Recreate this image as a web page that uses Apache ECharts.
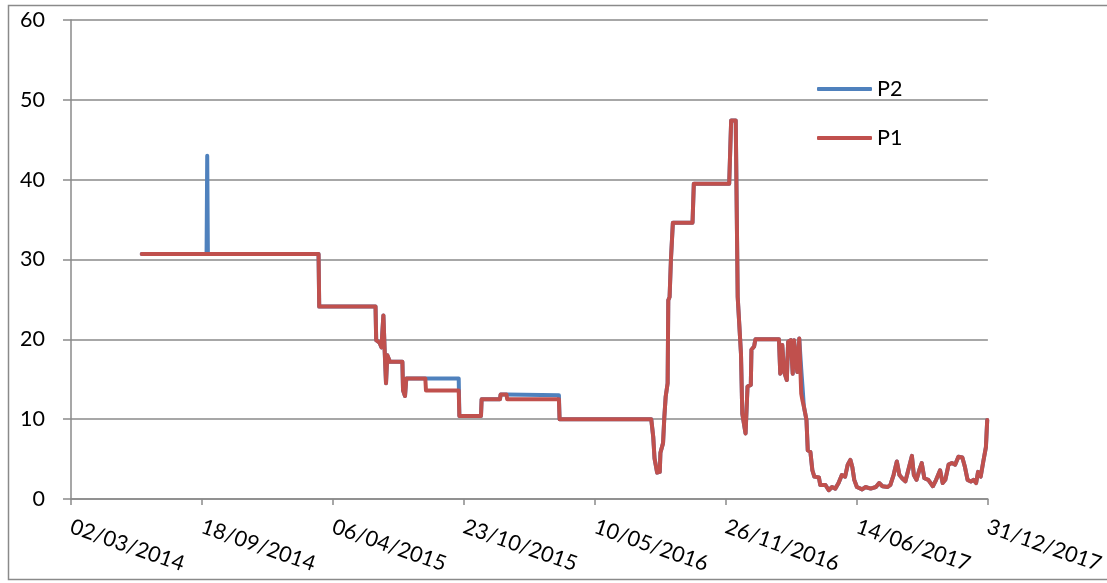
<!DOCTYPE html>
<html>
<head>
<meta charset="utf-8">
<script src="https://cdn.jsdelivr.net/npm/echarts@6/dist/echarts.min.js"></script>
<style>
html,body{margin:0;padding:0;background:#fff;}
#chart{width:1107px;height:583px;}
</style>
</head>
<body>
<div id="chart"></div>
<script>
// ---- data ----
var axisStart = '2014-03-02';
var axisEnd = '2017-12-31';
var tickStepDays = 200;
var yTicks = [0, 10, 20, 30, 40, 50, 60];
var seriesNames = ['P2', 'P1'];

var dates = [
'2014-06-18','2014-09-25','2014-09-26','2014-09-27','2015-03-15','2015-03-16','2015-06-10','2015-06-11',
'2015-06-16','2015-06-19','2015-06-22','2015-06-24','2015-06-26','2015-06-28','2015-07-02','2015-07-21',
'2015-07-22','2015-07-25','2015-07-27','2015-08-25','2015-08-26','2015-10-15','2015-10-16','2015-11-18',
'2015-11-19','2015-12-17','2015-12-18','2015-12-27','2015-12-28','2016-03-16','2016-03-17','2016-08-04',
'2016-08-07','2016-08-09','2016-08-13','2016-08-17','2016-08-18','2016-08-22','2016-08-24','2016-08-26',
'2016-08-29','2016-08-30','2016-09-01','2016-09-03','2016-09-06','2016-10-06','2016-10-08','2016-12-01',
'2016-12-04','2016-12-11','2016-12-14','2016-12-19','2016-12-21','2016-12-26','2016-12-29','2017-01-03',
'2017-01-04','2017-01-08','2017-01-10','2017-02-15','2017-02-17','2017-02-20','2017-02-23','2017-02-27',
'2017-03-01','2017-03-05','2017-03-08','2017-03-10','2017-03-15','2017-03-18','2017-03-20','2017-03-21',
'2017-03-23','2017-03-25','2017-03-29','2017-03-31','2017-04-04','2017-04-07','2017-04-10','2017-04-17',
'2017-04-19','2017-04-27','2017-05-02','2017-05-07','2017-05-12','2017-05-17','2017-05-22','2017-05-27',
'2017-05-31','2017-06-04','2017-06-07','2017-06-10','2017-06-14','2017-06-22','2017-06-27','2017-07-05',
'2017-07-13','2017-07-18','2017-07-23','2017-07-31','2017-08-04','2017-08-09','2017-08-14','2017-08-18',
'2017-08-22','2017-08-27','2017-09-01','2017-09-06','2017-09-09','2017-09-13','2017-09-18','2017-09-21',
'2017-09-25','2017-10-01','2017-10-08','2017-10-13','2017-10-19','2017-10-23','2017-10-27','2017-11-01',
'2017-11-06','2017-11-11','2017-11-16','2017-11-22','2017-11-26','2017-11-30','2017-12-05','2017-12-09',
'2017-12-13','2017-12-16','2017-12-20','2017-12-24','2017-12-28','2017-12-30'
];

var p1Values = [
30.7,30.7,30.7,30.7,30.7,24.1,24.1,19.9,
19.6,19.0,23.0,18.5,14.5,18.0,17.2,17.2,
13.6,12.9,15.1,15.1,13.6,13.6,10.4,10.4,
12.5,12.5,13.1,13.1,12.5,12.5,10.0,10.0,
7.8,5.1,3.3,3.4,5.8,7.0,10.3,12.8,
14.5,24.9,25.3,29.9,34.6,34.6,39.5,39.5,
47.4,47.4,25.3,18.2,10.7,8.2,14.1,14.3,
18.7,19.1,20.0,20.0,15.7,19.3,15.9,14.9,
19.7,19.9,15.7,19.9,15.9,20.1,20.3,13.2,
12.3,11.6,9.9,6.1,5.9,3.6,2.8,2.7,
1.75,1.75,1.1,1.5,1.3,2.0,3.0,2.8,
4.3,4.9,4.0,2.4,1.5,1.2,1.5,1.3,
1.5,2.0,1.6,1.5,1.75,3.0,4.7,3.0,
2.6,2.2,3.8,5.4,3.0,2.4,3.8,4.5,
2.6,2.4,1.6,2.4,3.6,2.0,2.4,4.3,
4.5,4.3,5.3,5.2,4.0,2.4,2.2,2.4,
2.0,3.4,2.8,4.7,6.5,9.9
];

var p2Values = [
30.7,30.7,43.0,30.7,30.7,24.1,24.1,19.9,
19.6,19.0,23.0,18.5,14.5,18.0,17.2,17.2,
13.6,12.9,15.1,15.1,15.1,15.1,10.4,10.4,
12.5,12.5,13.1,13.1,13.0,13.0,10.0,10.0,
7.8,5.1,3.3,3.4,5.8,7.0,10.3,12.8,
14.5,24.9,25.3,29.9,34.6,34.6,39.5,39.5,
47.4,47.4,25.3,18.2,10.7,8.2,14.1,14.3,
18.7,19.1,20.0,20.0,15.7,19.3,15.9,14.9,
19.7,19.9,15.7,19.9,15.9,20.1,20.3,16.3,
14.0,11.6,9.9,6.1,5.9,3.6,2.8,2.7,
1.75,1.75,1.1,1.5,1.3,2.0,3.0,2.8,
4.3,4.9,4.0,2.4,1.5,1.2,1.5,1.3,
1.5,2.0,1.6,1.5,1.75,3.0,4.7,3.0,
2.6,2.2,3.8,5.4,3.0,2.4,3.8,4.5,
2.6,2.4,1.6,2.4,3.6,2.0,2.4,4.3,
4.5,4.3,5.3,5.2,4.0,2.4,2.2,2.4,
2.0,3.4,2.8,4.7,6.5,9.9
];

// ---- helpers ----
var DAY = 86400000;
var base = Date.parse(axisStart);
function dayOffset(s) { return Math.round((Date.parse(s) - base) / DAY); }
function pad(n) { return (n < 10 ? '0' : '') + n; }
function fmtDate(v) {
  var d = new Date(base + v * DAY);
  return pad(d.getUTCDate()) + '/' + pad(d.getUTCMonth() + 1) + '/' + d.getUTCFullYear();
}
function pairs(vals) { return dates.map(function (d, i) { return [dayOffset(d), vals[i]]; }); }

var gridColor = '#8a8a8a';
var font = 'Lato, "Liberation Sans", sans-serif';

var chart = echarts.init(document.getElementById('chart'), null, { renderer: 'canvas' });
chart.setOption({
  animation: false,
  backgroundColor: '#fff',
  graphic: [{
    type: 'rect',
    shape: { x: 8.5, y: 5.5, width: 1200, height: 574 },
    style: { fill: 'none', stroke: gridColor, lineWidth: 1.5 },
    silent: true
  }],
  grid: { left: 71, right: 116, top: 20, bottom: 84, containLabel: false },
  legend: {
    orient: 'vertical',
    left: 817,
    top: 78,
    padding: 0,
    icon: 'roundRect',
    itemWidth: 55,
    itemHeight: 4,
    itemGap: 27,
    data: seriesNames,
    textStyle: { fontSize: 21.5, lineHeight: 20, fontFamily: font, color: '#000' }
  },
  xAxis: {
    type: 'value',
    min: 0,
    max: dayOffset(axisEnd),
    interval: tickStepDays,
    splitLine: { show: false },
    axisLine: { show: true, lineStyle: { color: gridColor, width: 1.5 } },
    axisTick: { show: true, length: 6, lineStyle: { color: gridColor, width: 1.5 } },
    axisLabel: {
      rotate: -19,
      margin: 27,
      fontSize: 21.5,
      fontFamily: font,
      color: '#000',
      showMinLabel: true,
      showMaxLabel: true,
      hideOverlap: false,
      formatter: fmtDate
    }
  },
  yAxis: {
    type: 'value',
    min: yTicks[0],
    max: yTicks[yTicks.length - 1],
    interval: yTicks[1] - yTicks[0],
    splitLine: { show: true, lineStyle: { color: gridColor, width: 1.5 } },
    axisLine: { show: true, lineStyle: { color: gridColor, width: 1.5 } },
    axisTick: { show: true, length: 8, lineStyle: { color: gridColor, width: 1.5 } },
    axisLabel: { margin: 26, fontSize: 21.5, fontFamily: font, color: '#000' }
  },
  series: [
    {
      name: seriesNames[0],
      type: 'line',
      data: pairs(p2Values),
      symbol: 'none',
      showSymbol: false,
      color: '#4f81bd',
      itemStyle: { color: '#4f81bd' },
      lineStyle: { color: '#4f81bd', width: 4, join: 'round', cap: 'round' }
    },
    {
      name: seriesNames[1],
      type: 'line',
      data: pairs(p1Values),
      symbol: 'none',
      showSymbol: false,
      color: '#c0504d',
      itemStyle: { color: '#c0504d' },
      lineStyle: { color: '#c0504d', width: 4, join: 'round', cap: 'round' }
    }
  ]
});
</script>
</body>
</html>
